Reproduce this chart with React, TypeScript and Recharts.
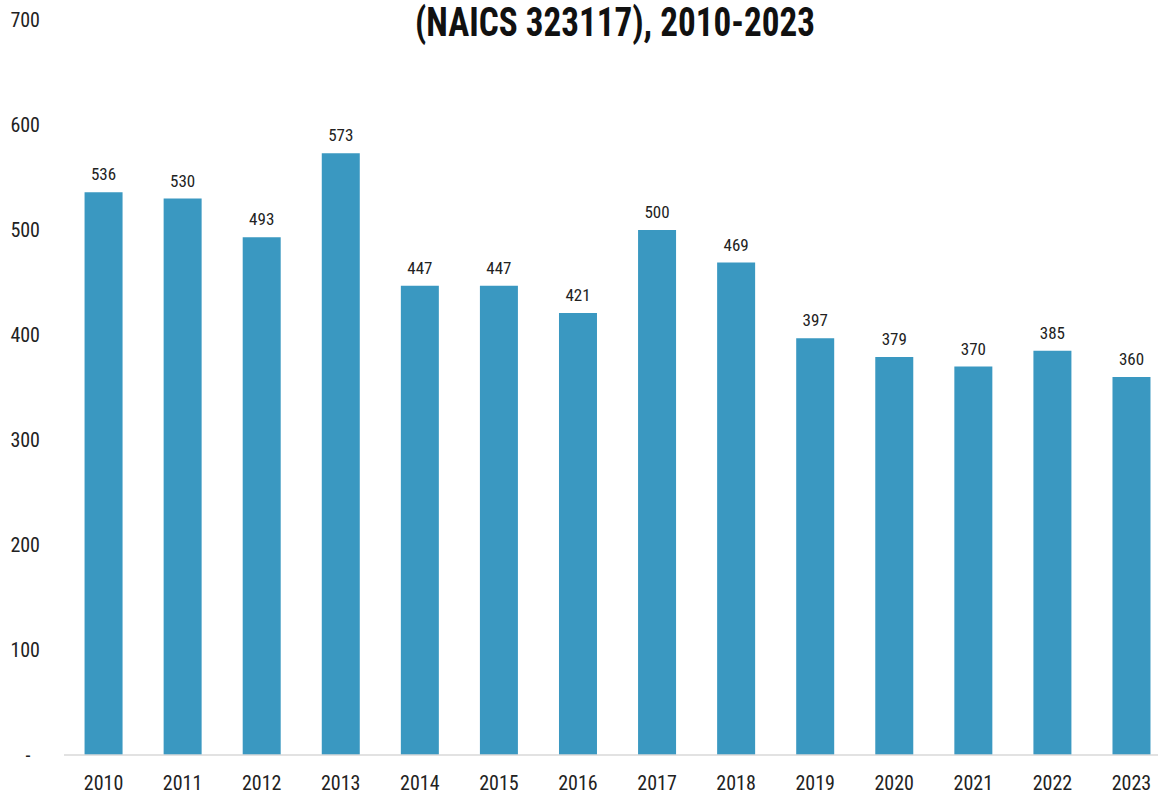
import React from 'react';
import { BarChart, Bar, XAxis, YAxis, LabelList } from 'recharts';

const years = ['2010','2011','2012','2013','2014','2015','2016','2017','2018','2019','2020','2021','2022','2023'];
const establishments = [536, 530, 493, 573, 447, 447, 421, 500, 469, 397, 379, 370, 385, 360];
const yTicks = [0, 100, 200, 300, 400, 500, 600, 700];
const titleText = '(NAICS 323117), 2010-2023';

const data = years.map((y, i) => ({ year: y, value: establishments[i] }));

const FONT = '"Liberation Sans Narrow", "Roboto Condensed", "DejaVu Sans Condensed", Arial, sans-serif';

const YTick = (props: any) => {
  const { y, payload } = props;
  if (payload.value === 0) {
    return (
      <text x={28} y={y} dy="0.355em" textAnchor="middle" fontFamily={FONT} fontSize={20} fill="#222">-</text>
    );
  }
  return (
    <text x={40} y={y} dy="0.355em" textAnchor="end" fontFamily={FONT} fontSize={20} fill="#222">
      {payload.value}
    </text>
  );
};

export default function App() {
  return (
    <div style={{ position: 'absolute', left: 0, top: 0, width: 1158, height: 795, overflow: 'hidden', background: '#fff' }}>
      <BarChart
        width={1171}
        height={795}
        data={data}
        margin={{ top: 20, right: 0, bottom: 0, left: 0 }}
        barCategoryGap="26%"
      >
        <XAxis
          dataKey="year"
          height={40}
          tickLine={false}
          axisLine={{ stroke: '#d9d9d9', strokeWidth: 1.5 }}
          tickMargin={15}
          tick={{ fontFamily: FONT, fontSize: 20, fill: '#222' }}
          interval={0}
        />
        <YAxis
          width={64}
          domain={[0, 700]}
          ticks={yTicks}
          axisLine={false}
          tickLine={false}
          tick={<YTick />}
          interval={0}
        />
        <Bar dataKey="value" fill="#3a98c1" isAnimationActive={false}>
          <LabelList dataKey="value" position="top" offset={12} style={{ fontFamily: FONT, fontSize: 17, fill: '#222' }} />
        </Bar>
      </BarChart>
      <svg width={1158} height={60} style={{ position: 'absolute', left: 0, top: 0 }}>
        <text
          x={615}
          y={36}
          textAnchor="middle"
          fontFamily={FONT}
          fontWeight="bold"
          fontSize={40}
          textLength={400}
          lengthAdjust="spacingAndGlyphs"
          fill="#111"
        >
          {titleText}
        </text>
      </svg>
    </div>
  );
}
